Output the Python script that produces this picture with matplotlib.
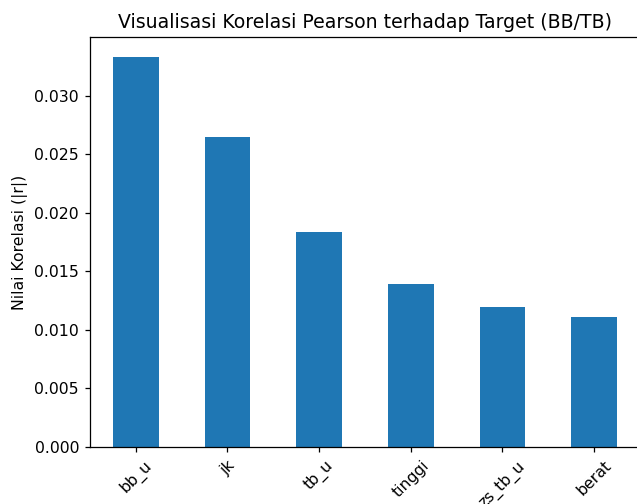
import matplotlib
matplotlib.use("Agg")
import matplotlib.pyplot as plt

features = ["bb_u", "jk", "tb_u", "tinggi", "zs_tb_u", "berat"]
corr_values = [0.03333, 0.02650, 0.01838, 0.01393, 0.01197, 0.01111]

DPI = 113
fig = plt.figure(figsize=(637/DPI, 504/DPI), dpi=DPI)
ax = fig.add_axes([90/637, 1-447/504, 550/637, 410/504])
x = range(len(features))
ax.bar(x, corr_values, width=0.5, color="#1f77b4")
ax.set_xlim(-0.5, len(features) - 0.5)
ax.set_ylim(0, max(corr_values) * 1.05)
ax.set_xticks(list(x))
ax.set_xticklabels(features, rotation=45)
ax.set_ylabel("Nilai Korelasi (|r|)")
ax.set_title("Visualisasi Korelasi Pearson terhadap Target (BB/TB)")
fig.savefig("out.png", dpi=DPI)
